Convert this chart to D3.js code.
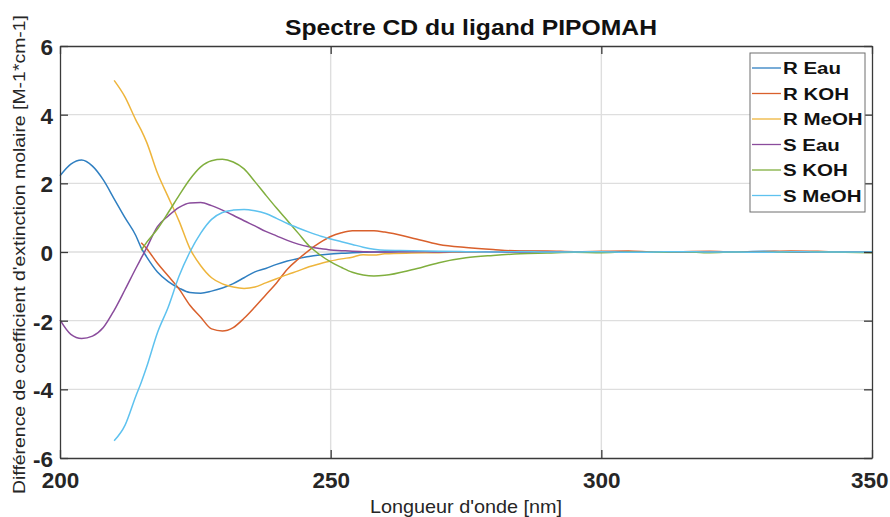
<!DOCTYPE html>
<html>
<head>
<meta charset="utf-8">
<script src="https://cdn.jsdelivr.net/npm/d3@7"></script>
<style>
  html, body { margin: 0; padding: 0; background: #fff; }
  svg { display: block; }
  text { font-family: "Liberation Sans", Arial, sans-serif; }
</style>
</head>
<body>
<svg id="chart" width="890" height="517"></svg>
<script>
// Wavelength grid (nm) shared by every spectrum
const wavelengths = [200,202,204,206,208,210,212,214,215,216,218,220,222,224,226,228,230,232,234,236,238,240,242,244,246,248,250,252,254,256,258,260,265,270,275,280,285,290,295,300,305,310,315,320,325,330,335,340,345,350];

// CD spectra (M-1*cm-1); null = not measured
const rEau  = [2.22,2.56,2.68,2.5,2.1,1.55,1.0,0.48,0.12,-0.14,-0.58,-0.86,-1.05,-1.18,-1.2,-1.14,-1.05,-0.92,-0.75,-0.58,-0.48,-0.36,-0.26,-0.19,-0.13,-0.09,-0.06,-0.04,-0.02,-0.01,0.0,0.0,0.01,0.01,0.0,0.01,0.02,0.01,-0.01,0.0,-0.01,0.0,0.01,-0.01,0.0,0.02,0.0,-0.01,0.01,0.0];
const rKOH  = [null,null,null,null,null,null,null,null,0.27,0.1,-0.33,-0.7,-1.08,-1.55,-1.9,-2.24,-2.3,-2.2,-1.93,-1.6,-1.25,-0.9,-0.5,-0.21,0.05,0.27,0.45,0.56,0.62,0.62,0.62,0.58,0.41,0.22,0.13,0.07,0.03,0.03,0.01,0.02,0.03,0.0,0.01,0.02,0.0,0.01,0.03,0.02,0.0,0.01];
const rMeOH = [null,null,null,null,null,5.0,4.52,3.85,3.55,3.2,2.3,1.6,0.9,0.1,-0.4,-0.75,-0.93,-1.02,-1.06,-1.02,-0.9,-0.78,-0.66,-0.55,-0.43,-0.34,-0.26,-0.2,-0.15,-0.08,-0.09,-0.05,-0.03,-0.02,0.0,-0.01,0.01,0.0,-0.01,0.01,0.0,-0.01,0.0,0.01,-0.01,0.0,0.0,0.01,-0.01,0.0];
const sEau  = [-1.98,-2.4,-2.52,-2.45,-2.2,-1.7,-1.1,-0.48,-0.18,0.12,0.74,1.05,1.3,1.43,1.44,1.35,1.22,1.07,0.91,0.76,0.6,0.47,0.34,0.23,0.15,0.1,0.06,0.04,0.02,0.01,0.0,0.0,0.01,0.0,0.01,0.0,-0.01,0.01,0.0,0.0,0.01,-0.01,0.0,0.0,0.01,0.0,-0.01,0.0,0.01,0.0];
const sKOH  = [null,null,null,null,null,null,null,null,0.05,0.28,0.67,1.15,1.65,2.12,2.48,2.66,2.7,2.62,2.42,2.05,1.66,1.28,0.92,0.55,0.18,-0.08,-0.29,-0.45,-0.59,-0.67,-0.7,-0.68,-0.52,-0.31,-0.17,-0.1,-0.05,-0.03,-0.01,-0.02,0.0,-0.01,0.01,-0.02,0.0,-0.01,0.0,0.01,-0.01,-0.02];
const sMeOH = [null,null,null,null,null,-5.5,-5.05,-4.2,-3.8,-3.35,-2.35,-1.6,-0.7,0.0,0.55,0.95,1.15,1.22,1.24,1.2,1.12,0.98,0.83,0.7,0.58,0.47,0.38,0.3,0.22,0.14,0.08,0.05,0.04,0.02,0.01,0.0,0.01,0.0,0.0,0.01,-0.01,0.0,0.01,0.0,0.0,-0.01,0.01,0.0,0.0,0.01];

const seriesNames  = ["R Eau", "R KOH", "R MeOH", "S Eau", "S KOH", "S MeOH"];
const seriesValues = [rEau, rKOH, rMeOH, sEau, sKOH, sMeOH];
const seriesColors = ["#2f7fc1", "#d9602c", "#eeb53c", "#8a4c9c", "#80af3e", "#5ec2ef"];

const xTicks = [200, 250, 300, 350];
const yTicks = [-6, -4, -2, 0, 2, 4, 6];

const titleText = "Spectre CD du ligand PIPOMAH";
const xLabel = "Longueur d'onde [nm]";
const yLabel = "Différence de coefficient d'extinction molaire [M-1*cm-1]";

// Layout
const plot = { left: 60, right: 872, top: 46, bottom: 458 };
const svg = d3.select("#chart");

const x = d3.scaleLinear().domain([200, 350]).range([plot.left, plot.right]);
const y = d3.scaleLinear().domain([-6, 6]).range([plot.bottom, plot.top]);

// Plain hyphen-minus tick labels
const plainFormat = d => String(d);

// Grid lines
const grid = svg.append("g").attr("stroke", "#dedede").attr("stroke-width", 1.4);
grid.selectAll("line.h").data(yTicks.filter(d => d > -6 && d < 6)).join("line")
  .attr("x1", plot.left).attr("x2", plot.right)
  .attr("y1", d => y(d)).attr("y2", d => y(d));
grid.selectAll("line.v").data(xTicks.filter(d => d > 200 && d < 350)).join("line")
  .attr("y1", plot.top).attr("y2", plot.bottom)
  .attr("x1", d => x(d)).attr("x2", d => x(d));

// Data lines
const line = d3.line()
  .defined(d => d[1] !== null)
  .x(d => x(d[0]))
  .y(d => y(d[1]))
  .curve(d3.curveMonotoneX);

svg.append("g").selectAll("path").data(seriesValues).join("path")
  .attr("fill", "none")
  .attr("stroke", (d, i) => seriesColors[i])
  .attr("stroke-width", 1.5)
  .attr("d", vals => line(wavelengths.map((w, i) => [w, vals[i]])));

// Axes: inward ticks on all four sides, labels on left and bottom
const axisColor = "#3a3a3a";
const tickLen = 8;

const bottomAxis = d3.axisBottom(x).tickValues(xTicks).tickSize(-tickLen).tickSizeOuter(0).tickFormat(plainFormat);
const topAxis = d3.axisTop(x).tickValues(xTicks).tickSize(-tickLen).tickSizeOuter(0).tickFormat("");
const leftAxis = d3.axisLeft(y).tickValues(yTicks).tickSize(-tickLen).tickSizeOuter(0).tickFormat(plainFormat);
const rightAxis = d3.axisRight(y).tickValues(yTicks).tickSize(-tickLen).tickSizeOuter(0).tickFormat("");

function styleAxis(g) {
  g.select(".domain").attr("stroke", axisColor).attr("stroke-width", 1.3);
  g.selectAll(".tick line").attr("stroke", axisColor).attr("stroke-width", 1.3);
  g.selectAll(".tick text")
    .attr("fill", "#262626")
    .style("font-family", "'Liberation Sans', Arial, sans-serif")
    .style("font-weight", "bold")
    .style("font-size", "22.5px");
}

svg.append("g").attr("transform", `translate(0,${plot.bottom})`).call(bottomAxis).call(styleAxis)
  .call(g => g.selectAll(".tick text").attr("y", 0).attr("dy", "30px"))
  .call(g => g.selectAll(".tick text").filter(d => d === 350).attr("text-anchor", "end").attr("x", 16));
svg.append("g").attr("transform", `translate(0,${plot.top})`).call(topAxis).call(styleAxis);
svg.append("g").attr("transform", `translate(${plot.left},0)`).call(leftAxis).call(styleAxis)
  .call(g => g.selectAll(".tick text").attr("x", -7).attr("dy", "0.38em"));
svg.append("g").attr("transform", `translate(${plot.right},0)`).call(rightAxis).call(styleAxis);

// Title
svg.append("text")
  .attr("x", 471).attr("y", 35)
  .attr("text-anchor", "middle")
  .attr("textLength", 372).attr("lengthAdjust", "spacingAndGlyphs")
  .style("font-weight", "bold").style("font-size", "21.5px")
  .attr("fill", "#111")
  .text(titleText);

// Axis titles
svg.append("text")
  .attr("x", 466).attr("y", 513)
  .attr("text-anchor", "middle")
  .attr("textLength", 192).attr("lengthAdjust", "spacingAndGlyphs")
  .style("font-size", "18.5px")
  .attr("fill", "#262626")
  .text(xLabel);

svg.append("text")
  .attr("transform", "translate(25,254.5) rotate(-90)")
  .attr("text-anchor", "middle")
  .attr("textLength", 479).attr("lengthAdjust", "spacingAndGlyphs")
  .style("font-size", "17px")
  .attr("fill", "#262626")
  .text(yLabel);

// Legend
const legend = { x: 750, y: 53, w: 115, h: 159, row0: 68, rowStep: 25.5 };
const lg = svg.append("g");
lg.append("rect")
  .attr("x", legend.x).attr("y", legend.y)
  .attr("width", legend.w).attr("height", legend.h)
  .attr("fill", "#fff").attr("stroke", "#6e6e6e").attr("stroke-width", 1);

const rows = lg.selectAll("g.row").data(seriesNames).join("g")
  .attr("transform", (d, i) => `translate(0,${legend.row0 + i * legend.rowStep})`);
rows.append("line")
  .attr("x1", 752).attr("x2", 781).attr("y1", 0).attr("y2", 0)
  .attr("stroke", (d, i) => seriesColors[i]).attr("stroke-width", 1.3);
rows.append("text")
  .attr("transform", "translate(783,6) scale(1.28,1)")
  .style("font-weight", "bold").style("font-size", "16px")
  .attr("fill", "#111")
  .text(d => d);
</script>
</body>
</html>
